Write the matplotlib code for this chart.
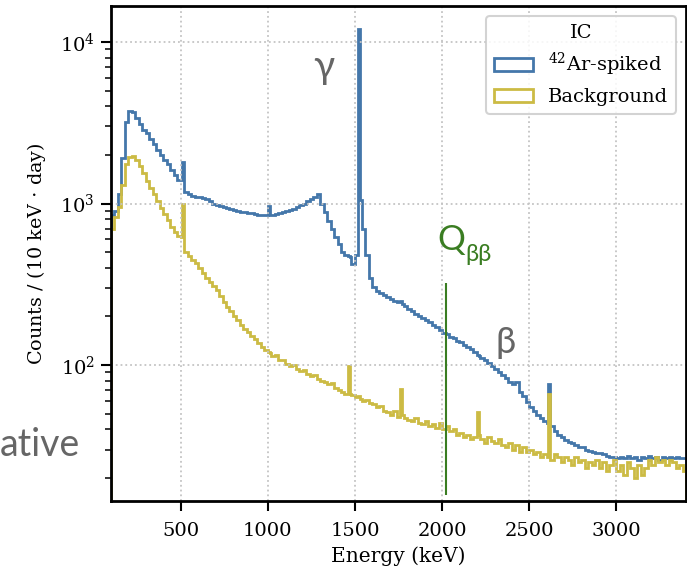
import matplotlib
matplotlib.use("Agg")
import matplotlib.pyplot as plt
import matplotlib.patches as mpatches
import numpy as np

plt.rcParams['font.family'] = 'DejaVu Serif'
plt.rcParams['mathtext.fontset'] = 'dejavuserif'
plt.rcParams['font.size'] = 14

# 20 keV bins from 100 to 3400 keV, 10 keV bins where there is a line
line_splits = [510, 1010, 1470, 1530, 1770, 2210, 2610]
edges = np.sort(np.concatenate([np.arange(100, 3420, 20), line_splits]))

spiked = [
    850, 900, 1150, 1900, 3200, 3750, 3700, 3400, 3100, 2850,          # 100-280
    2750, 2500, 2350, 2150, 2000, 1870, 1750, 1620, 1500, 1400,        # 300-480
    1400, 1800, 1180, 1150, 1120, 1100, 1095, 1085, 1060, 1030, 1000,  # 500-680
    975, 960, 950, 940, 930, 915, 900, 890, 880, 872,                  # 700-880
    868, 860, 855, 850, 843, 970, 850, 850, 862, 868, 880,             # 900-1080
    895, 910, 928, 950, 975, 1000, 1030, 1060, 1100, 1150,             # 1100-1280
    1000, 880, 780, 700, 620, 560, 500, 480, 470, 465, 420,            # 1300-1480
    480, 12100, 1045, 700, 480, 345, 305, 289, 278, 270, 262,          # 1500-1680
    256, 250, 245, 248, 240, 232, 222, 215, 208, 200, 195,             # 1700-1880
    190, 185, 178, 172, 165, 158, 155, 150, 146, 141,                  # 1900-2080
    138, 134, 130, 125, 120, 116, 114, 111, 107, 103, 98,              # 2100-2280
    95, 91, 87, 83, 78, 76, 79, 68, 64, 59,                            # 2300-2480
    55, 52, 49, 47, 45, 44, 76, 42, 39, 37, 36,                        # 2500-2680
    34.5, 33.5, 33, 32, 31, 31, 30, 29.5, 29, 28.5,                    # 2700-2880
    28.5, 28, 27.5, 27, 27, 26.5, 27, 26.5, 27.5, 26.5,                # 2900-3080
    27, 26, 27, 26.5, 27.5, 26.5, 27, 26, 27, 26.5,                    # 3100-3280
    27, 26.5, 27, 26.5, 26.5,                                          # 3300-3380
]

background = [
    700, 820, 950, 1300, 1750, 1950, 1980, 1850, 1700, 1550,           # 100-280
    1380, 1250, 1140, 1030, 940, 860, 790, 720, 670, 630,              # 300-480
    620, 1000, 500, 470, 445, 430, 400, 370, 345, 325, 310,            # 500-680
    290, 268, 245, 228, 215, 200, 190, 176, 168, 160,                  # 700-880
    152, 145, 137, 130, 124, 121, 118, 113, 116, 107, 108,             # 900-1080
    102, 98, 100, 95, 92, 93, 88, 86, 87, 82,                          # 1100-1280
    80, 78, 76, 77, 72, 70, 68, 66, 99, 66, 65,                        # 1300-1480
    63, 64, 62, 60, 61, 58, 57, 55, 56, 52, 51,                        # 1500-1680
    49, 52, 48, 71, 49, 47, 46, 45, 47, 44, 43,                        # 1700-1880
    45, 42, 43, 41, 44, 40, 42, 39, 40, 37,                            # 1900-2080
    38, 36, 37, 35, 36, 51, 37, 35, 33, 36, 34,                        # 2100-2280
    33, 35, 32, 31, 33, 30, 32, 29, 31, 29,                            # 2300-2480
    30, 28, 29, 27, 28, 27, 66, 26, 28, 27, 25,                        # 2500-2680
    27, 26, 24, 27, 25, 26, 23, 25, 24, 26,                            # 2700-2880
    23, 25, 22, 24, 26, 22, 24, 21, 25, 23,                            # 2900-3080
    20, 24, 21, 23, 26, 24, 27, 25, 26, 24,                            # 3100-3280
    26, 25, 23, 24, 22,                                                # 3300-3380
]

q_bb = 2020
q_bb_range = [15.7, 320]

blue = '#4477AA'
yellow = '#CCBB44'
green = '#3a7d22'
gray = '#666666'
lw = 2.0

fig = plt.figure(figsize=(6.87, 5.69), dpi=100)
ax = fig.add_axes([111/687, 1-501/569, 575/687, 495/569])

ax.stairs(spiked, edges, baseline=1, color=blue, lw=lw)
ax.stairs(background, edges, baseline=1, color=yellow, lw=lw)
ax.vlines(q_bb, q_bb_range[0], q_bb_range[1], color=green, lw=1.5)

ax.set_yscale('log')
ax.set_xlim(100, 3400)
ax.set_ylim(14.4, 16700)
ax.set_xticks([500, 1000, 1500, 2000, 2500, 3000])
ax.grid(True, which='major', ls=':', color='#c4c4c4', lw=1.3)
ax.tick_params(which='major', length=7, width=1.5, pad=4.5)
ax.tick_params(which='minor', length=4.5, width=1.1)
ax.tick_params(axis='x', pad=8)
for s in ax.spines.values():
    s.set_linewidth(2.0)

ax.set_xlabel('Energy (keV)', fontsize=14.5, labelpad=5)
ax.set_ylabel(r'Counts / (10 keV $\cdot$ day)', fontsize=13.8, labelpad=9)

handles = [mpatches.Patch(facecolor='white', edgecolor=blue, lw=2),
           mpatches.Patch(facecolor='white', edgecolor=yellow, lw=2)]
leg = ax.legend(handles, [r'$^{42}$Ar-spiked', 'Background'], title='IC',
                loc='upper right', fancybox=True, framealpha=0.85,
                edgecolor='#cccccc', fontsize=14, title_fontsize=14)
leg.get_frame().set_linewidth(1.5)

ann = ['Lato', 'Open Sans', 'DejaVu Sans']
fig.text(80/687, 1-456/569, 'ative', ha='right', va='baseline', color=gray,
         fontsize=27, family=ann)
fig.text(324/687, 1-78/569, 'γ', ha='center', va='baseline', color=gray,
         fontsize=28, family=ann)
fig.text(506/687, 1-353/569, 'β', ha='center', va='baseline', color=gray,
         fontsize=26, family=ann)
fig.text(437/687, 1-250/569, 'Q', ha='left', va='baseline', color=green,
         fontsize=25, family=ann)
fig.text(465/687, 1-261/569, 'ββ', ha='left', va='baseline', color=green,
         fontsize=17, family=ann)

fig.savefig('out.png', dpi=100)
